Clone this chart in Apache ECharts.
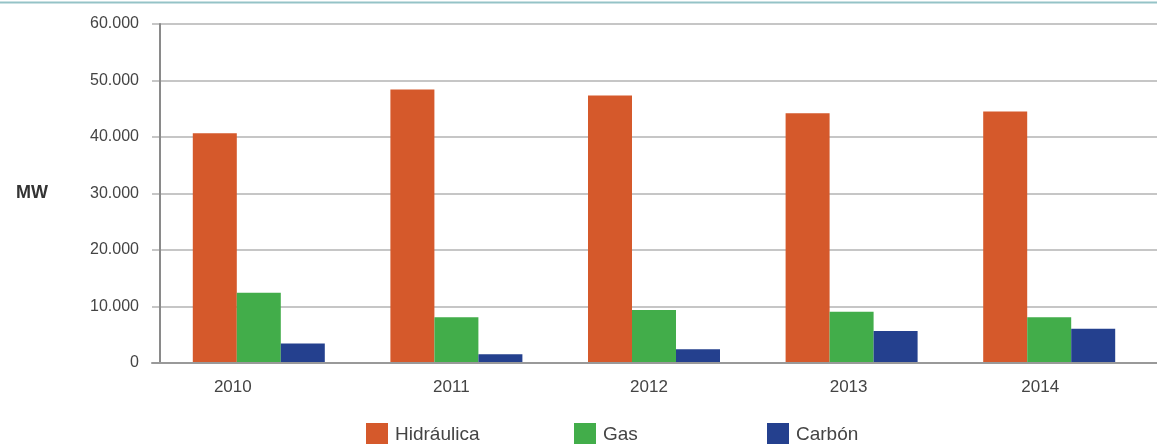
<!DOCTYPE html>
<html>
<head>
<meta charset="utf-8">
<script src="https://cdn.jsdelivr.net/npm/echarts@6/dist/echarts.min.js"></script>
<style>
  html, body { margin: 0; padding: 0; background: #fff; }
  #chart { width: 1157px; height: 444px; }
</style>
</head>
<body>
<div id="chart"></div>
<script>
// Installed capacity by source, MW
const years = ['2010', '2011', '2012', '2013', '2014'];
const hidraulica = [40650, 48400, 47350, 44200, 44500];
const gas = [12450, 8100, 9400, 9050, 8100];
const carbon = [3450, 1550, 2450, 5650, 6050];
const seriesNames = ['Hidráulica', 'Gas', 'Carbón'];
const yTicks = { min: 0, max: 60000, interval: 10000 };

// layout: horizontal nudge of each year label (px, negative = left)
const labelShift = [-26, -5, -5, -3, -9];

const colors = ['#D5592B', '#42AD4A', '#24408E'];
const font = '"Liberation Sans", Arial, sans-serif';

const fmt = v => v === 0 ? '0' : v.toLocaleString('de-DE');

const yearLabels = years.map((y, i) => ({
  value: y,
  textStyle: {
    padding: labelShift[i] < 0 ? [0, -2 * labelShift[i], 0, 0] : [0, 0, 0, 2 * labelShift[i]]
  }
}));

const chart = echarts.init(document.getElementById('chart'), null, { renderer: 'canvas' });

const legendLeft = [366, 574, 767];

chart.setOption({
  animation: false,
  backgroundColor: '#fff',
  graphic: [{
    type: 'rect',
    shape: { x: 0, y: 1.5, width: 1157, height: 2 },
    style: { fill: '#95c3c7' }
  }],
  legend: seriesNames.map((n, i) => ({
    data: [n],
    left: legendLeft[i],
    top: 423,
    itemWidth: 22,
    itemHeight: 24,
    itemGap: 0,
    padding: 0,
    icon: 'rect',
    textStyle: { fontFamily: font, fontSize: 19, color: '#444', padding: [6, 0, 0, 2] }
  })),
  grid: [
    // full-width grid that carries gridlines and the baseline
    { left: 152, right: 0, top: 24, bottom: 81 },
    // plotting grid for the bars
    { left: 160, right: 9, top: 24, bottom: 81 }
  ],
  xAxis: [
    {
      gridIndex: 0, type: 'category', data: years,
      axisLine: { show: true, lineStyle: { color: '#999', width: 2 } },
      axisTick: { show: false }, axisLabel: { show: false }, splitLine: { show: false },
      z: 5
    },
    {
      gridIndex: 1, type: 'category', data: yearLabels,
      axisLine: { show: false }, axisTick: { show: false },
      axisLabel: { fontFamily: font, fontSize: 17, color: '#444', margin: 16 }
    }
  ],
  yAxis: [
    {
      gridIndex: 0, type: 'value', min: yTicks.min, max: yTicks.max, interval: yTicks.interval,
      axisLine: { show: false }, axisTick: { show: false }, axisLabel: { show: false },
      splitLine: { lineStyle: { color: '#c6c6c6', width: 2 } }
    },
    {
      gridIndex: 1, type: 'value', min: yTicks.min, max: yTicks.max, interval: yTicks.interval,
      axisLine: { show: true, lineStyle: { color: '#8a8a8a', width: 2 } },
      axisTick: { show: false },
      splitLine: { show: false },
      axisLabel: { fontFamily: font, fontSize: 16, color: '#444', margin: 21, formatter: fmt },
      name: 'MW', nameLocation: 'middle', nameRotate: 0, nameGap: 112,
      nameTextStyle: { fontFamily: font, fontSize: 18, fontWeight: 'bold', color: '#333' }
    }
  ],
  series: [hidraulica, gas, carbon].map((d, i) => ({
    name: seriesNames[i],
    type: 'bar',
    xAxisIndex: 1,
    yAxisIndex: 1,
    data: d,
    barWidth: 44,
    barGap: '0%',
    itemStyle: { color: colors[i] },
    z: 2
  }))
});
</script>
</body>
</html>
